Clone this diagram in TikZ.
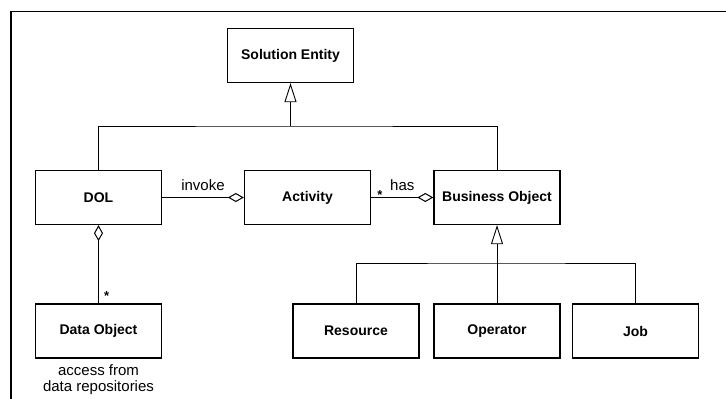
\documentclass[tikz,border=0pt]{standalone}
\usepackage{fontspec}
\setmainfont{Liberation Sans}
\usetikzlibrary{arrows.meta}
\tikzset{
  classbox/.style={draw, line width=1.3pt, minimum width=126pt, minimum height=54pt,
    inner sep=0pt, font=\fontsize{14}{16}\selectfont\bfseries},
  link/.style={line width=1pt},
  inherit/.style={link, -{Triangle[open, length=19pt, width=12pt, line width=0.9pt]}},
  aggr/.style={link, {Diamond[open, length=16pt, width=9pt, line width=1pt]}-},
  lbl/.style={font=\fontsize{15}{16}\selectfont, inner sep=1pt},
  mult/.style={font=\fontsize{13}{13}\selectfont\bfseries, inner sep=1pt}
}
\begin{document}
\begin{tikzpicture}[x=1pt, y=-1pt]
  \useasboundingbox (0,0) rectangle (726,399);

  % frame around the diagram
  \draw[line width=1.6pt] (11,399) -- (11,11.5) -- (726,11.5);

  % classes
  \node[classbox] (se)   at (290.5, 55.5) {Solution Entity};
  \node[classbox] (dol)  at (98.5, 197.5) {DOL};
  \node[classbox] (act)  at (307.5, 197.5) {Activity};
  \node[classbox] (bo)   at (497, 197.5) {Business Object};
  \node[classbox] (dobj) at (98.5, 331) {Data Object};
  \node[classbox] (res)  at (356, 331) {Resource};
  \node[classbox] (op)   at (497, 331) {Operator};
  \node[classbox] (job)  at (635.5, 331) {Job};

  \node[lbl, align=center] (note) at (98.5, 380) {access from\\data repositories};

  % generalization to Solution Entity
  \coordinate (j1) at (290.5, 126);
  \draw[link] (dol.north) |- (j1) -| (bo.north);
  \draw[inherit] (j1) -- (se.south);

  % generalization to Business Object
  \coordinate (j2) at (497, 263);
  \draw[link] (res.north) |- (j2) -| (job.north);
  \draw[inherit] (op.north) -- (bo.south);

  % aggregations
  \draw[aggr] (act.west) -- (dol.east)
    node[lbl, midway, above=5pt] (invoke) {invoke};
  \draw[aggr] (bo.west) -- (act.east)
    node[lbl, midway, above=5pt] (has) {has}
    node[mult, pos=0.86, above=-3pt] (m1) {*};
  \draw[aggr] (dol.south) -- (dobj.north)
    node[mult, pos=0.9, right=4pt] (m2) {*};
\end{tikzpicture}
\end{document}
